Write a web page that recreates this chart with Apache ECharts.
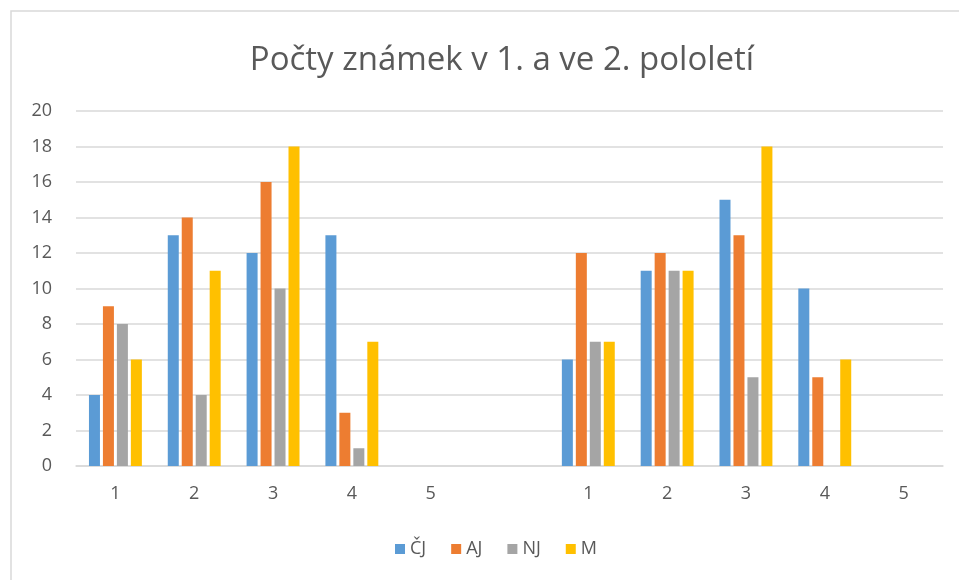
<!DOCTYPE html>
<html>
<head>
<meta charset="utf-8">
<script src="https://cdn.jsdelivr.net/npm/echarts@6/dist/echarts.min.js"></script>
<style>
  html, body { margin: 0; padding: 0; background: #fff; }
  #chart { width: 959px; height: 580px; }
</style>
</head>
<body>
<div id="chart"></div>
<script>
// kategorie: známky 1-5 v 1. pololetí, mezera, známky 1-5 ve 2. pololetí
const categories = ['1', '2', '3', '4', '5', '', '1', '2', '3', '4', '5'];
const seriesNames = ['ČJ', 'AJ', 'NJ', 'M'];
const cj = [4, 13, 12, 13, null, null, 6, 11, 15, 10, null];
const aj = [9, 14, 16, 3, null, null, 12, 12, 13, 5, null];
const nj = [8, 4, 10, 1, null, null, 7, 11, 5, null, null];
const m  = [6, 11, 18, 7, null, null, 7, 11, 18, 6, null];
const yTicks = { min: 0, max: 20, step: 2 };

const colors = ['#5b9bd5', '#ed7d31', '#a5a5a5', '#ffc000'];
const textColor = '#595959';
const font = '"Open Sans", "Noto Sans", sans-serif';

const chart = echarts.init(document.getElementById('chart'), null, { renderer: 'canvas' });

const seriesData = [cj, aj, nj, m];

chart.setOption({
  backgroundColor: '#ffffff',
  color: colors,
  animation: false,
  title: {
    text: 'Počty známek v 1. a ve 2. pololetí',
    left: 497,
    textAlign: 'center',
    top: 39,
    textStyle: { color: textColor, fontSize: 33, fontWeight: 'normal', fontFamily: font },
  },
  legend: {
    bottom: 17,
    left: 390,
    itemWidth: 10,
    itemHeight: 10,
    itemGap: 25,
    icon: 'rect',
    textStyle: { color: textColor, fontSize: 18, fontFamily: font },
    data: seriesNames,
  },
  grid: { left: 76, right: 16, top: 111, bottom: 114, containLabel: false },
  xAxis: {
    type: 'category',
    data: categories,
    axisLine: { lineStyle: { color: '#d9d9d9', width: 1.5 } },
    axisTick: { show: false },
    axisLabel: { color: textColor, fontSize: 18, fontFamily: font, margin: 19 },
  },
  yAxis: {
    type: 'value',
    min: yTicks.min,
    max: yTicks.max,
    interval: yTicks.step,
    axisLine: { show: false },
    axisTick: { show: false },
    axisLabel: { color: textColor, fontSize: 18, fontFamily: font, margin: 24 },
    splitLine: { lineStyle: { color: '#d9d9d9', width: 1.5 } },
  },
  graphic: [{
    type: 'rect',
    shape: { x: 11, y: 11, width: 1000, height: 1000 },
    style: { fill: 'none', stroke: '#d9d9d9', lineWidth: 1.5 },
    silent: true,
  }],
  series: seriesNames.map((name, i) => ({
    name,
    type: 'bar',
    data: seriesData[i],
    barWidth: 11,
    barGap: '27%',
    itemStyle: { color: colors[i] },
  })),
});
</script>
</body>
</html>
